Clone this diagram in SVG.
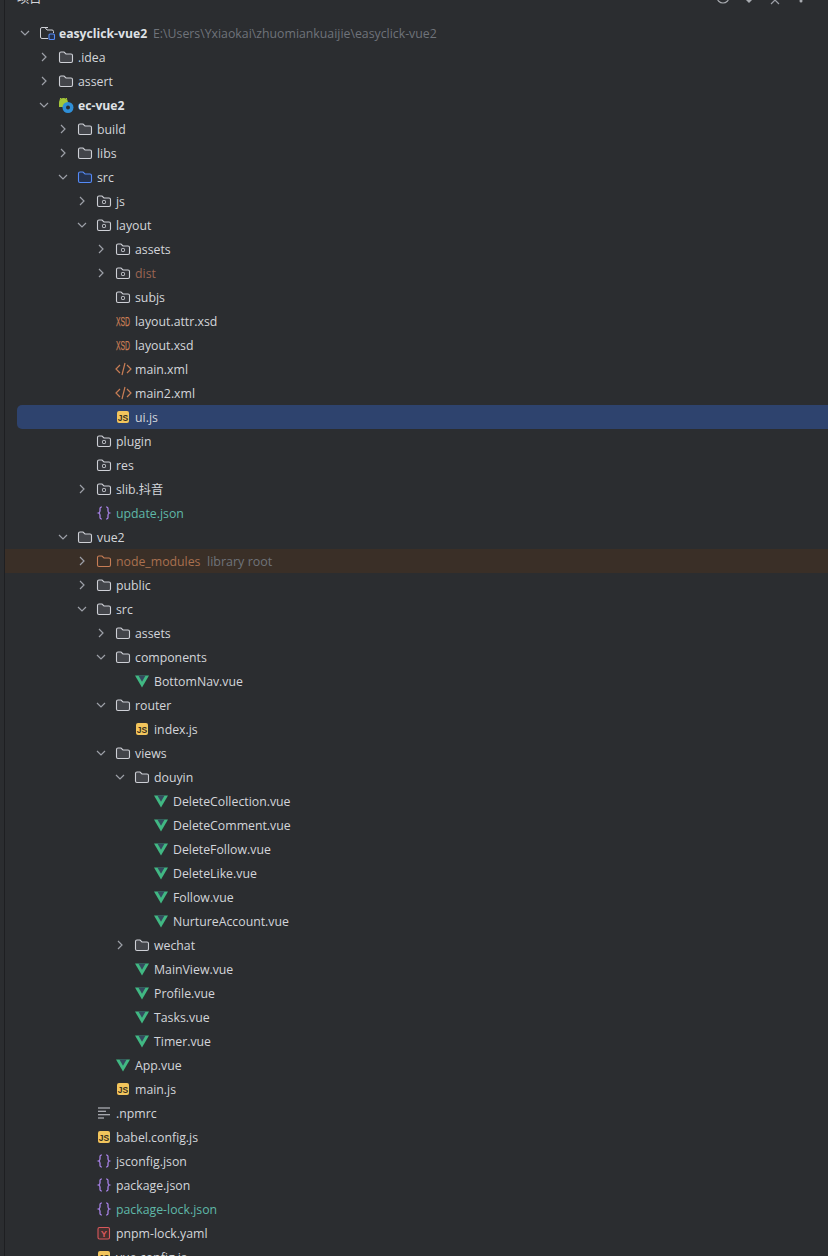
<svg xmlns="http://www.w3.org/2000/svg" width="828" height="1256" viewBox="0 0 828 1256">
<style>
text{font-family:"Open Sans","Noto Sans CJK SC",sans-serif;font-size:12.3px;fill:#d3d5da}
.b{font-weight:700;fill:#dfe1e5;font-size:12.2px}
.g{fill:#6f737a}
.t{fill:#5fb8a8}
.o{fill:#9a6553}
.h{fill:#a9704f}
.c{fill:none;stroke:#9da0a8;stroke-width:1.2}
.f{fill:#43454a;stroke:#ced0d6;stroke-width:1.1}
.k{fill:none;stroke:#ced0d6;stroke-width:1}
.lbl{font-family:"Liberation Sans",sans-serif;font-weight:700;font-size:8.500px;fill:#3a3020}
.x{font-family:"Liberation Sans",sans-serif;font-size:12px;fill:#c77d55;font-weight:400;stroke:#c77d55;stroke-width:.25}
</style>
<defs>
<path id="fp" d="M.5-3.5Q.5-5 2-5H5L7-3H12Q13.5-3 13.5-1.5V4Q13.5 5.5 12 5.5H2Q.5 5.5.5 4Z"/>
<path id="cr" class="c" d="M-2-4 2 0-2 4"/>
<path id="cd" class="c" d="M-4-2 0 2 4-2"/>
<use id="folder" href="#fp" class="f"/>
<g id="mod"><use href="#fp" fill="#33353a" stroke="#ced0d6" stroke-width="1.1"/><rect x="5.500" y="-.5" width="3" height="3" rx=".8" class="k"/></g>
<g id="vue"><path d="M0-5.500H14L7 6.500Z" fill="#41b883"/><path d="M3.400-5.500H10.600L7 .8Z" fill="#35495e"/></g>
<g id="js"><rect x="1" y="-6" width="12" height="12" rx="2" fill="#f2c55c"/><text x="7" y="3.500" text-anchor="middle" class="lbl">JS</text></g>
<g id="json" fill="none" stroke="#b189f5" stroke-width="1.200"><path d="M5-6H4.500Q3-6 3-4.500V-2Q3-.5 1.500 0 3 .5 3 2V4.500Q3 6 4.500 6H5"/><path d="M9-6H9.500Q11-6 11-4.500V-2Q11-.5 12.500 0 11 .5 11 2V4.500Q11 6 9.500 6H9"/></g>
<g id="xml" fill="none" stroke="#c77d55" stroke-width="1.200"><path d="M4-4 0 0 4 4M11-4 15 0 11 4M9-6 6 6"/></g>
<text id="xsd" x="0" y="4.500" class="x" textLength="14" lengthAdjust="spacingAndGlyphs">XSD</text>
</defs>
<rect width="828" height="1256" fill="#2b2d30"/>
<rect x="4" width="1" height="1256" fill="#1e1f22"/>
<g id="toolbar">
<text x="17" y="3">项目</text>
<circle cx="723" cy="-3" r="6" fill="none" stroke="#a8abb0" stroke-width="1.2"/>
<path d="M746 0 749 3 752 0Z" fill="#a8abb0"/>
<path d="M771 4 775 0 779 4" class="c"/>
<circle cx="801" cy="1" r="1.500" fill="#a8abb0"/>
</g>
<rect id="row-selected" x="17" y="405" width="830" height="24" rx="5" fill="#2e436e"/>
<rect id="row-library" x="5" y="549" width="823" height="24" fill="#3a2f27"/>

<g id="n-root" transform="translate(40,33)"><use href="#cd" x="-15"/><path d="M8-5.500H2Q.5-5.500.5-4V4Q.5 5.500 2 5.500H8M5-5.500 7-3H12Q13.500-3 13.500-1.500V0" class="k"/><rect x="9" y="1" width="5.500" height="5.500" rx="1" fill="#25324d" stroke="#548af7" stroke-width="1.100"/><text x="19" y="4.500" class="b">easyclick-vue2</text><text x="113" y="4.500" class="g">E:\Users\Yxiaokai\zhuomiankuaijie\easyclick-vue2</text></g>
<g id="n-idea" transform="translate(59,57)"><use href="#cr" x="-15"/><use href="#folder"/><text x="19" y="4.500">.idea</text></g>
<g id="n-assert" transform="translate(59,81)"><use href="#cr" x="-15"/><use href="#folder"/><text x="19" y="4.500">assert</text></g>
<g id="n-ec-vue2" transform="translate(59,105)"><use href="#cd" x="-15"/><path d="M0-2.500A4.500 4.500 0 0 1 9-2.500V2H0Z" fill="#a4c639"/><path d="M1-7 2.500-5.500M8-7 6.500-5.500" stroke="#a4c639"/><circle cx="9" cy="2.500" r="5.500" fill="#2f8fd8"/><circle cx="9" cy="2.500" r="2" fill="#2b2d30"/><text x="19" y="4.500" class="b">ec-vue2</text></g>
<g id="n-build" transform="translate(78,129)"><use href="#cr" x="-15"/><use href="#folder"/><text x="19" y="4.500">build</text></g>
<g id="n-libs" transform="translate(78,153)"><use href="#cr" x="-15"/><use href="#folder"/><text x="19" y="4.500">libs</text></g>
<g id="n-src1" transform="translate(78,177)"><use href="#cd" x="-15"/><use href="#fp" fill="#25324d" stroke="#548af7" stroke-width="1.100"/><text x="19" y="4.500">src</text></g>
<g id="n-js1" transform="translate(97,201)"><use href="#cr" x="-15"/><use href="#mod"/><text x="19" y="4.500">js</text></g>
<g id="n-layout" transform="translate(97,225)"><use href="#cd" x="-15"/><use href="#mod"/><text x="19" y="4.500">layout</text></g>
<g id="n-assets1" transform="translate(116,249)"><use href="#cr" x="-15"/><use href="#mod"/><text x="19" y="4.500">assets</text></g>
<g id="n-dist" transform="translate(116,273)"><use href="#cr" x="-15"/><use href="#mod"/><text x="19" y="4.500" class="o">dist</text></g>
<g id="n-subjs" transform="translate(116,297)"><use href="#mod"/><text x="19" y="4.500">subjs</text></g>
<g id="n-attr" transform="translate(116,321)"><use href="#xsd"/><text x="19" y="4.500">layout.attr.xsd</text></g>
<g id="n-xsd" transform="translate(116,345)"><use href="#xsd"/><text x="19" y="4.500">layout.xsd</text></g>
<g id="n-main" transform="translate(116,369)"><use href="#xml"/><text x="19" y="4.500">main.xml</text></g>
<g id="n-main2" transform="translate(116,393)"><use href="#xml"/><text x="19" y="4.500">main2.xml</text></g>
<g id="n-ui" transform="translate(116,417)"><use href="#js"/><text x="19" y="4.500">ui.js</text></g>
<g id="n-plugin" transform="translate(97,441)"><use href="#mod"/><text x="19" y="4.500">plugin</text></g>
<g id="n-res" transform="translate(97,465)"><use href="#mod"/><text x="19" y="4.500">res</text></g>
<g id="n-slib" transform="translate(97,489)"><use href="#cr" x="-15"/><use href="#mod"/><text x="19" y="4.500">slib.抖音</text></g>
<g id="n-update" transform="translate(97,513)"><use href="#json"/><text x="19" y="4.500" class="t">update.json</text></g>
<g id="n-vue2" transform="translate(78,537)"><use href="#cd" x="-15"/><use href="#folder"/><text x="19" y="4.500">vue2</text></g>
<g id="n-nm" transform="translate(97,561)"><use href="#cr" x="-15"/><use href="#fp" fill="none" stroke="#c77d55" stroke-width="1.100"/><text x="19" y="4.500" class="h">node_modules</text><text x="110" y="4.500" class="g" style="font-size:12.500px">library root</text></g>
<g id="n-public" transform="translate(97,585)"><use href="#cr" x="-15"/><use href="#folder"/><text x="19" y="4.500">public</text></g>
<g id="n-src2" transform="translate(97,609)"><use href="#cd" x="-15"/><use href="#folder"/><text x="19" y="4.500">src</text></g>
<g id="n-assets2" transform="translate(116,633)"><use href="#cr" x="-15"/><use href="#folder"/><text x="19" y="4.500">assets</text></g>
<g id="n-components" transform="translate(116,657)"><use href="#cd" x="-15"/><use href="#folder"/><text x="19" y="4.500">components</text></g>
<g id="n-bottomnav" transform="translate(135,681)"><use href="#vue"/><text x="19" y="4.500">BottomNav.vue</text></g>
<g id="n-router" transform="translate(116,705)"><use href="#cd" x="-15"/><use href="#folder"/><text x="19" y="4.500">router</text></g>
<g id="n-index" transform="translate(135,729)"><use href="#js"/><text x="19" y="4.500">index.js</text></g>
<g id="n-views" transform="translate(116,753)"><use href="#cd" x="-15"/><use href="#folder"/><text x="19" y="4.500">views</text></g>
<g id="n-douyin" transform="translate(135,777)"><use href="#cd" x="-15"/><use href="#folder"/><text x="19" y="4.500">douyin</text></g>
<g id="n-dc" transform="translate(154,801)"><use href="#vue"/><text x="19" y="4.500">DeleteCollection.vue</text></g>
<g id="n-dcm" transform="translate(154,825)"><use href="#vue"/><text x="19" y="4.500">DeleteComment.vue</text></g>
<g id="n-df" transform="translate(154,849)"><use href="#vue"/><text x="19" y="4.500">DeleteFollow.vue</text></g>
<g id="n-dl" transform="translate(154,873)"><use href="#vue"/><text x="19" y="4.500">DeleteLike.vue</text></g>
<g id="n-follow" transform="translate(154,897)"><use href="#vue"/><text x="19" y="4.500">Follow.vue</text></g>
<g id="n-na" transform="translate(154,921)"><use href="#vue"/><text x="19" y="4.500">NurtureAccount.vue</text></g>
<g id="n-wechat" transform="translate(135,945)"><use href="#cr" x="-15"/><use href="#folder"/><text x="19" y="4.500">wechat</text></g>
<g id="n-mainview" transform="translate(135,969)"><use href="#vue"/><text x="19" y="4.500">MainView.vue</text></g>
<g id="n-profile" transform="translate(135,993)"><use href="#vue"/><text x="19" y="4.500">Profile.vue</text></g>
<g id="n-tasks" transform="translate(135,1017)"><use href="#vue"/><text x="19" y="4.500">Tasks.vue</text></g>
<g id="n-timer" transform="translate(135,1041)"><use href="#vue"/><text x="19" y="4.500">Timer.vue</text></g>
<g id="n-app" transform="translate(116,1065)"><use href="#vue"/><text x="19" y="4.500">App.vue</text></g>
<g id="n-mainjs" transform="translate(116,1089)"><use href="#js"/><text x="19" y="4.500">main.js</text></g>
<g id="n-npmrc" transform="translate(97,1113)"><path d="M1-5H13M1-1.700H9M1 1.700H13M1 5H7" fill="none" stroke="#ced0d6" stroke-width="1.100"/><text x="19" y="4.500">.npmrc</text></g>
<g id="n-babel" transform="translate(97,1137)"><use href="#js"/><text x="19" y="4.500">babel.config.js</text></g>
<g id="n-jsconfig" transform="translate(97,1161)"><use href="#json"/><text x="19" y="4.500">jsconfig.json</text></g>
<g id="n-package" transform="translate(97,1185)"><use href="#json"/><text x="19" y="4.500">package.json</text></g>
<g id="n-lock" transform="translate(97,1209)"><use href="#json"/><text x="19" y="4.500" class="t">package-lock.json</text></g>
<g id="n-pnpm" transform="translate(97,1233)"><rect x="1" y="-5.500" width="11.500" height="11.500" rx="1.500" fill="#43302f" stroke="#d8585c" stroke-width="1.100"/><text x="6.800" y="3.800" text-anchor="middle" class="lbl" style="fill:#d8585c;font-size:9.500px">Y</text><text x="19" y="4.500">pnpm-lock.yaml</text></g>
<g id="n-vueconfig" transform="translate(97,1257)"><use href="#js"/><text x="19" y="4.500">vue.config.js</text></g>
</svg>
